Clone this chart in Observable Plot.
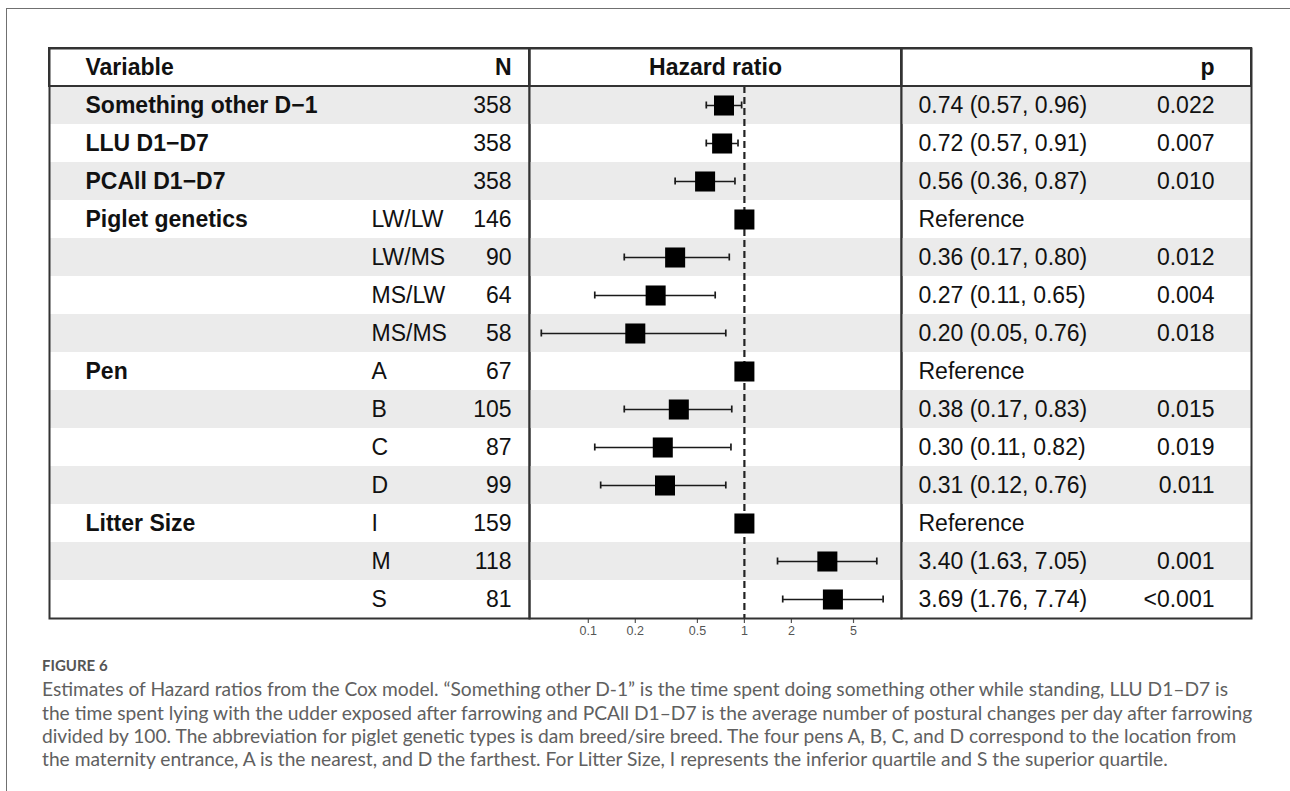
<!DOCTYPE html>
<html><head><meta charset="utf-8">
<script src="https://cdn.jsdelivr.net/npm/d3@7"></script>
<script src="https://cdn.jsdelivr.net/npm/@observablehq/plot@0.6"></script>
<style>
html,body{margin:0;padding:0;background:#fff}
body{width:1290px;height:791px;overflow:hidden;position:relative;font-family:"Liberation Sans",Arial,sans-serif}
#outer{position:absolute;left:6px;top:8px;width:1300px;height:800px;border-top:1.5px solid #707070;border-left:1.5px solid #707070}
#table{position:absolute;left:48px;top:47px;display:flex;align-items:flex-start}
#table svg{overflow:visible;background:transparent;flex:none}
#table svg + svg{margin-left:-2px}
#caption{position:absolute;left:42px;top:654px;font-family:Lato,"Open Sans",sans-serif;color:#606060;white-space:nowrap}
#caption .fig{font-size:15px;font-weight:700;line-height:23.3px;color:#555}
#caption .ln{font-size:19.2px;line-height:23.3px}
</style></head>
<body>
<div id="outer"></div>
<div id="table"></div>
<div id="caption">
<div class="fig">FIGURE 6</div>
<div class="ln">Estimates of Hazard ratios from the Cox model. “Something other D-1” is the time spent doing something other while standing, LLU D1–D7 is</div>
<div class="ln">the time spent lying with the udder exposed after farrowing and PCAll D1–D7 is the average number of postural changes per day after farrowing</div>
<div class="ln">divided by 100. The abbreviation for piglet genetic types is dam breed/sire breed. The four pens A, B, C, and D correspond to the location from</div>
<div class="ln">the maternity entrance, A is the nearest, and D the farthest. For Litter Size, I represents the inferior quartile and S the superior quartile.</div>
</div>
<script>
// ---- data ----
const variables = ["Something other D\u22121", "LLU D1\u2212D7", "PCAll D1\u2212D7", "Piglet genetics", "", "", "", "Pen", "", "", "", "Litter Size", "", ""];
const levels = ["", "", "", "LW/LW", "LW/MS", "MS/LW", "MS/MS", "A", "B", "C", "D", "I", "M", "S"];
const counts = [358, 358, 358, 146, 90, 64, 58, 67, 105, 87, 99, 159, 118, 81];
const estimates = [0.74, 0.72, 0.56, 1, 0.36, 0.27, 0.20, 1, 0.38, 0.30, 0.31, 1, 3.40, 3.69];
const lower = [0.57, 0.57, 0.36, null, 0.17, 0.11, 0.05, null, 0.17, 0.11, 0.12, null, 1.63, 1.76];
const upper = [0.96, 0.91, 0.87, null, 0.80, 0.65, 0.76, null, 0.83, 0.82, 0.76, null, 7.05, 7.74];
const pValues = ["0.022", "0.007", "0.010", "", "0.012", "0.004", "0.018", "", "0.015", "0.019", "0.011", "", "0.001", "<0.001"];
const headers = {variable: "Variable", n: "N", hr: "Hazard ratio", p: "p"};
const xTicks = [0.1, 0.2, 0.5, 1, 2, 5];
const xTickLabels = ["0.1", "0.2", "0.5", "1", "2", "5"];
const xDomain = [0.042, 10.15];

// ---- table built from the arrays ----
const rows = counts.map((n, i) => ({
  id: String(i), i, variable: variables[i], level: levels[i], n: String(n),
  est: estimates[i], lo: lower[i], hi: upper[i],
  ci: lower[i] == null ? "Reference" : `${estimates[i].toFixed(2)} (${lower[i].toFixed(2)}, ${upper[i].toFixed(2)})`,
  p: pValues[i]
}));
const ciRows = rows.filter(r => r.lo != null);
const striped = rows.filter(r => r.i % 2 === 0);
const hdr = [{id: "hdr"}];
const yDomain = ["hdr", ...rows.map(r => r.id)];
const ticks = xTicks.map((v, i) => ({v, label: xTickLabels[i]}));

const H = 601, MT = 1, MB = 30;
const FS = 23;
const LINE = "#333";
const common = {
  height: H, marginTop: MT, marginBottom: MB, marginLeft: 1, marginRight: 1,
  y: {type: "band", domain: yDomain, padding: 0, axis: null},
  style: {fontFamily: "'Liberation Sans', Arial, sans-serif", fontSize: FS + "px", color: "#111", overflow: "visible", background: "transparent"}
};
const base = () => [
  Plot.cell(striped, {y: "id", fill: "#ebebeb"}),
];
const borders = () => [
  Plot.cell(hdr, {y: "id", fill: "none", stroke: LINE, strokeWidth: 2}),
  Plot.frame({stroke: LINE, strokeWidth: 2})
];

const left = Plot.plot({
  ...common, width: 482,
  marks: [
    ...base(),
    Plot.text(hdr, {y: "id", text: () => headers.variable, frameAnchor: "left", textAnchor: "start", dx: 36, fontWeight: "bold"}),
    Plot.text(hdr, {y: "id", text: () => headers.n, frameAnchor: "right", textAnchor: "end", dx: -18, fontWeight: "bold"}),
    Plot.text(rows, {y: "id", text: "variable", frameAnchor: "left", textAnchor: "start", dx: 36, fontWeight: "bold"}),
    Plot.text(rows, {y: "id", text: "level", frameAnchor: "left", textAnchor: "start", dx: 322}),
    Plot.text(rows, {y: "id", text: "n", frameAnchor: "right", textAnchor: "end", dx: -18}),
    ...borders()
  ]
});

const mid = Plot.plot({
  ...common, width: 374,
  x: {type: "log", domain: xDomain, label: null},
  marks: [
    ...base(),
    Plot.ruleX([{x: 1, y1: rows[0].id, y2: rows[rows.length - 1].id}], {x: "x", y1: "y1", y2: "y2", stroke: "#222", strokeWidth: 2.2, strokeDasharray: "7,4"}),
    Plot.ruleY(ciRows, {y: "id", x1: "lo", x2: "hi", stroke: "#1a1a1a", strokeWidth: 1.7}),
    Plot.tickX(ciRows, {x: "lo", y: "id", insetTop: 15.5, insetBottom: 15.5, stroke: "#1a1a1a", strokeWidth: 1.7}),
    Plot.tickX(ciRows, {x: "hi", y: "id", insetTop: 15.5, insetBottom: 15.5, stroke: "#1a1a1a", strokeWidth: 1.7}),
    Plot.dot(rows, {x: "est", y: "id", symbol: "square", r: 11.3, fill: "#000", stroke: null}),
    Plot.text(hdr, {y: "id", text: () => headers.hr, frameAnchor: "middle", fontWeight: "bold"}),
    Plot.axisX(xTicks, {tickSize: 5, tickFormat: () => "", stroke: "#555", strokeWidth: 1.2, label: null}),
    Plot.text(ticks, {x: "v", text: "label", frameAnchor: "bottom", dy: 16, fontSize: 12.5, fill: "#555"}),
    ...borders()
  ]
});

const right = Plot.plot({
  ...common, width: 352,
  marks: [
    ...base(),
    Plot.text(hdr, {y: "id", text: () => headers.p, frameAnchor: "right", textAnchor: "end", dx: -37, fontWeight: "bold"}),
    Plot.text(rows, {y: "id", text: "ci", frameAnchor: "left", textAnchor: "start", dx: 17}),
    Plot.text(rows, {y: "id", text: "p", frameAnchor: "right", textAnchor: "end", dx: -37}),
    ...borders()
  ]
});

const t = document.getElementById("table");
t.append(left, mid, right);
</script>
</body></html>
